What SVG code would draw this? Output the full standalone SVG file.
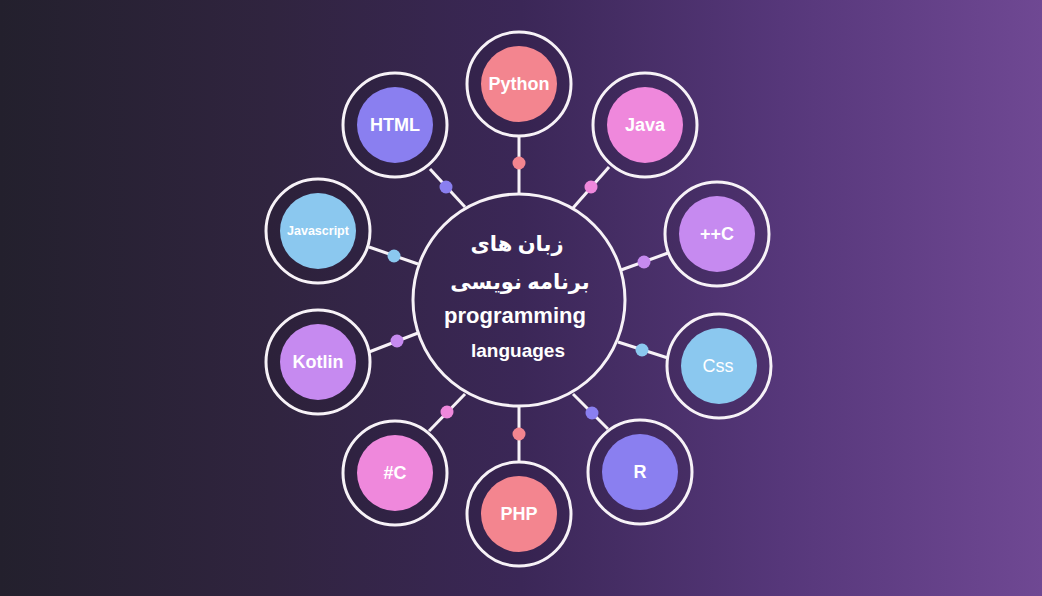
<svg xmlns="http://www.w3.org/2000/svg" width="1042" height="596" viewBox="0 0 1042 596">
<defs>
<linearGradient id="bg" x1="0" y1="0" x2="1" y2="0">
<stop offset="0" stop-color="#23202d"/>
<stop offset="0.26" stop-color="#30243f"/>
<stop offset="0.5" stop-color="#3b2757"/>
<stop offset="0.75" stop-color="#56377a"/>
<stop offset="1" stop-color="#6f4893"/>
</linearGradient>
<style>
.ring{fill:#000;fill-opacity:0.08;stroke:#f7f2f7;stroke-width:3}
.hub{fill:none;stroke:#f7f2f7;stroke-width:3}
.con{stroke:#f7f2f7;stroke-width:3;fill:none}
.lbl{font-family:"Liberation Sans",Arial,sans-serif;font-weight:700;font-size:18px;fill:#ffffff;text-anchor:middle}
.small{font-size:12.5px}
.reg{font-weight:400}
.fa{font-family:"Noto Sans","DejaVu Sans",sans-serif;font-weight:700;font-size:21px;fill:#ffffff;text-anchor:middle}
.en{font-family:"Liberation Sans",Arial,sans-serif;font-weight:700;fill:#ffffff;text-anchor:middle}
.big{font-size:22px}
.mid{font-size:19px}
.salmon{fill:#f3858f}
.pink{fill:#ef88dc}
.violet{fill:#c68af0}
.sky{fill:#8bc8ef}
.peri{fill:#8a7ff0}
</style>
</defs>
<rect width="1042" height="596" fill="url(#bg)"/>

<g id="connectors">
<line class="con" x1="519" y1="194" x2="519" y2="137"/>
<line class="con" x1="573" y1="208" x2="609" y2="167"/>
<line class="con" x1="621" y1="270" x2="668" y2="253"/>
<line class="con" x1="618" y1="342" x2="668" y2="358"/>
<line class="con" x1="573" y1="394" x2="608" y2="429"/>
<line class="con" x1="519" y1="406" x2="519" y2="463"/>
<line class="con" x1="465" y1="394" x2="429" y2="431"/>
<line class="con" x1="418" y1="333" x2="369" y2="352"/>
<line class="con" x1="418" y1="264" x2="369" y2="247"/>
<line class="con" x1="465" y1="207" x2="430" y2="169"/>
<circle class="salmon" cx="519" cy="163" r="6.5"/>
<circle class="pink" cx="591" cy="187" r="6.5"/>
<circle class="violet" cx="644" cy="262" r="6.5"/>
<circle class="sky" cx="642" cy="350" r="6.5"/>
<circle class="peri" cx="592" cy="413" r="6.5"/>
<circle class="salmon" cx="519" cy="434" r="6.5"/>
<circle class="pink" cx="447" cy="412" r="6.5"/>
<circle class="violet" cx="397" cy="341" r="6.5"/>
<circle class="sky" cx="394" cy="256" r="6.5"/>
<circle class="peri" cx="446" cy="187" r="6.5"/>
</g>

<g id="hub">
<circle class="hub" cx="519" cy="300" r="106"/>
<text class="fa" x="517" y="251">زبان های</text>
<text class="fa" x="520" y="289">برنامه نویسی</text>
<text class="en big" x="515" y="323">programming</text>
<text class="en mid" x="518" y="357">languages</text>
</g>

<g id="python">
<circle class="ring" cx="519" cy="84" r="52"/>
<circle class="salmon" cx="519" cy="84" r="38"/>
<text class="lbl" x="519" y="90">Python</text>
</g>
<g id="java">
<circle class="ring" cx="645" cy="125" r="52"/>
<circle class="pink" cx="645" cy="125" r="38"/>
<text class="lbl" x="645" y="131">Java</text>
</g>
<g id="cpp">
<circle class="ring" cx="717" cy="234" r="52"/>
<circle class="violet" cx="717" cy="234" r="38"/>
<text class="lbl" x="717" y="240">++C</text>
</g>
<g id="css">
<circle class="ring" cx="719" cy="366" r="52"/>
<circle class="sky" cx="719" cy="366" r="38"/>
<text class="lbl reg" x="718" y="372">Css</text>
</g>
<g id="r">
<circle class="ring" cx="640" cy="472" r="52"/>
<circle class="peri" cx="640" cy="472" r="38"/>
<text class="lbl" x="640" y="478">R</text>
</g>
<g id="php">
<circle class="ring" cx="519" cy="514" r="52"/>
<circle class="salmon" cx="519" cy="514" r="38"/>
<text class="lbl" x="519" y="520">PHP</text>
</g>
<g id="csharp">
<circle class="ring" cx="395" cy="473" r="52"/>
<circle class="pink" cx="395" cy="473" r="38"/>
<text class="lbl" x="395" y="479">#C</text>
</g>
<g id="kotlin">
<circle class="ring" cx="318" cy="362" r="52"/>
<circle class="violet" cx="318" cy="362" r="38"/>
<text class="lbl" x="318" y="368">Kotlin</text>
</g>
<g id="javascript">
<circle class="ring" cx="318" cy="231" r="52"/>
<circle class="sky" cx="318" cy="231" r="38"/>
<text class="lbl small" x="318" y="235">Javascript</text>
</g>
<g id="html">
<circle class="ring" cx="395" cy="125" r="52"/>
<circle class="peri" cx="395" cy="125" r="38"/>
<text class="lbl" x="395" y="131">HTML</text>
</g>
</svg>
